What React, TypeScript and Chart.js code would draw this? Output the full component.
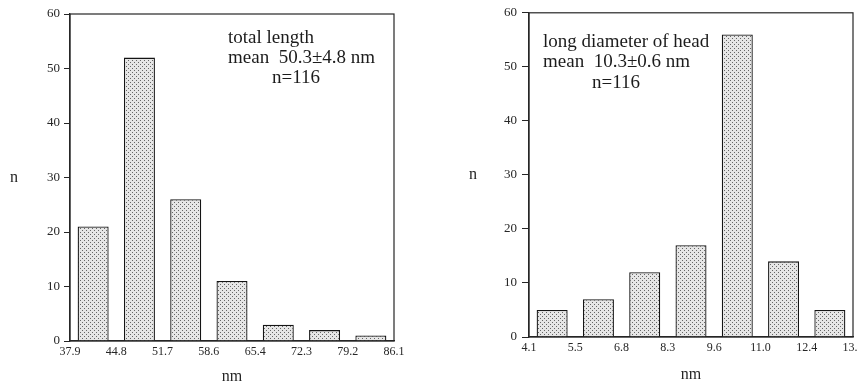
import React, { useEffect, useRef } from "react";
import { Chart, registerables } from "chart.js";

Chart.register(...registerables);

// ---------- data ----------
const lengthEdges = ["37.9", "44.8", "51.7", "58.6", "65.4", "72.3", "79.2", "86.1"];
const lengthCounts = [21, 52, 26, 11, 3, 2, 1];
const lengthNote = ["total length", "mean  50.3±4.8 nm", "n=116"];

const headEdges = ["4.1", "5.5", "6.8", "8.3", "9.6", "11.0", "12.4", "13.8"];
const headCounts = [5, 7, 12, 17, 56, 14, 5];
const headNote = ["long diameter of head", "mean  10.3±0.6 nm", "n=116"];

const yMin = 0;
const yMax = 60;
const yStep = 10;
const xTitle = "nm";
const yTitle = "n";

const SERIF = '"Liberation Serif", "Times New Roman", serif';
const INK = "#262626";

function makePattern(): CanvasPattern | string {
  const c = document.createElement("canvas");
  c.width = 4;
  c.height = 4;
  const g = c.getContext("2d");
  if (!g) return "#d6d6d6";
  g.fillStyle = "#e6e6e6";
  g.fillRect(0, 0, 4, 4);
  g.fillStyle = "#666666";
  g.fillRect(0, 0, 1, 1);
  g.fillRect(2, 2, 1, 1);
  return g.createPattern(c, "repeat") || "#d6d6d6";
}

const notePlugin = {
  id: "note",
  afterDraw(chart: any, _args: any, opts: any) {
    const { ctx, chartArea } = chart;
    ctx.save();
    // frame around plot area
    ctx.strokeStyle = INK;
    ctx.lineWidth = 1.2;
    ctx.strokeRect(
      chartArea.left,
      chartArea.top,
      chartArea.right - chartArea.left,
      chartArea.bottom - chartArea.top
    );
    // annotation text
    ctx.fillStyle = "#1c1c1c";
    ctx.textBaseline = "middle";
    ctx.textAlign = "left";
    ctx.font = `${opts.size}px ${SERIF}`;
    (opts.lines as string[]).forEach((t, i) => {
      const x = chartArea.left + opts.dx + (i === 2 ? opts.indent : 0);
      const y = chartArea.top + opts.dy + i * opts.gap;
      ctx.fillText(t, x, y);
    });
    // upright y title
    ctx.textAlign = "center";
    ctx.font = `16px ${SERIF}`;
    ctx.fillText(opts.yTitle, chartArea.left - 56, (chartArea.top + chartArea.bottom) / 2);
    ctx.restore();
  },
};

type HistProps = {
  edges: string[];
  counts: number[];
  note: string[];
  width: number;
  height: number;
  padTop: number;
  padRight: number;
  yWidth: number;
  xHeight: number;
  tickLen: number;
  tickPad: number;
  titlePad: number;
  noteDx: number;
  noteDy: number;
  noteGap: number;
  noteIndent: number;
};

function Histogram(p: HistProps) {
  const ref = useRef<HTMLCanvasElement | null>(null);
  useEffect(() => {
    if (!ref.current) return;
    const pattern = makePattern();
    const chart = new Chart(ref.current, {
      type: "bar",
      data: {
        datasets: [
          {
            data: p.counts.map((v, i) => ({ x: i + 0.5, y: v })),
            backgroundColor: pattern as any,
            borderColor: "#141414",
            borderWidth: 1.3,
            borderSkipped: "bottom",
            barPercentage: 0.67,
            categoryPercentage: 1,
          },
        ],
      },
      options: {
        responsive: false,
        animation: false,
        layout: { padding: { top: p.padTop, right: p.padRight, left: 0, bottom: 0 } },
        plugins: {
          legend: { display: false },
          tooltip: { enabled: false },
          note: {
            lines: p.note,
            size: 19,
            dx: p.noteDx,
            dy: p.noteDy,
            gap: p.noteGap,
            indent: p.noteIndent,
            yTitle,
          },
        } as any,
        scales: {
          x: {
            type: "linear",
            offset: false,
            min: 0,
            max: p.edges.length - 1,
            afterFit: (s: any) => {
              s.height = p.xHeight;
            },
            grid: { display: false, drawTicks: false, offset: false },
            border: { display: true, color: INK, width: 1.3 },
            ticks: {
              stepSize: 1,
              autoSkip: false,
              maxRotation: 0,
              padding: 4,
              color: INK,
              font: { family: SERIF, size: 12 },
              callback: (v: any) => p.edges[Math.round(Number(v))] ?? "",
            },
            title: {
              display: true,
              text: xTitle,
              color: INK,
              font: { family: SERIF, size: 16 },
              padding: { top: 0, bottom: p.titlePad },
            },
          },
          y: {
            min: yMin,
            max: yMax,
            afterFit: (s: any) => {
              s.width = p.yWidth;
            },
            grid: {
              drawOnChartArea: false,
              drawTicks: true,
              tickLength: p.tickLen,
              color: INK,
              lineWidth: 1,
            },
            border: { display: true, color: INK, width: 1.3 },
            ticks: {
              stepSize: yStep,
              padding: p.tickPad,
              color: INK,
              font: { family: SERIF, size: 13 },
            },
          },
        },
      },
      plugins: [notePlugin],
    });
    return () => chart.destroy();
  }, []);
  return (
    <canvas
      ref={ref}
      width={p.width}
      height={p.height}
      style={{ display: "block", width: p.width, height: p.height }}
    />
  );
}

export default function App() {
  return (
    <div
      style={{
        position: "absolute",
        left: 0,
        top: 0,
        width: 858,
        height: 386,
        overflow: "hidden",
        background: "#fff",
      }}
    >
      <div style={{ position: "absolute", left: 0, top: 0 }}>
        <Histogram
          edges={lengthEdges}
          counts={lengthCounts}
          note={lengthNote}
          width={430}
          height={386}
          padTop={14}
          padRight={36}
          yWidth={70}
          xHeight={45}
          tickLen={6}
          tickPad={4}
          titlePad={0}
          noteDx={158}
          noteDy={24}
          noteGap={20}
          noteIndent={44}
        />
      </div>
      <div style={{ position: "absolute", left: 430, top: 0 }}>
        <Histogram
          edges={headEdges}
          counts={headCounts}
          note={headNote}
          width={440}
          height={386}
          padTop={10}
          padRight={17}
          yWidth={99}
          xHeight={49}
          tickLen={7}
          tickPad={5}
          titlePad={2}
          noteDx={14}
          noteDy={29}
          noteGap={20.5}
          noteIndent={49}
        />
      </div>
    </div>
  );
}
